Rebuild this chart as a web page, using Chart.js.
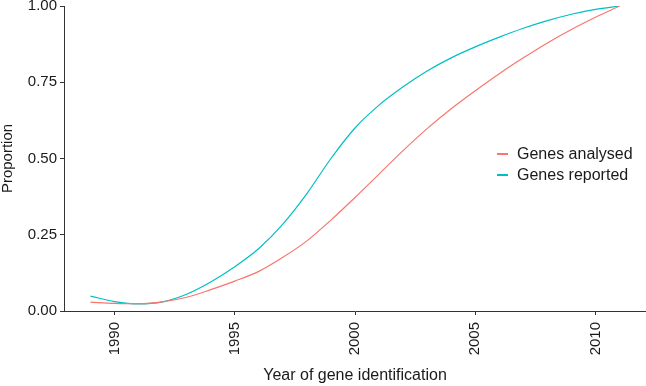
<!DOCTYPE html>
<html>
<head>
<meta charset="utf-8">
<script src="https://cdn.jsdelivr.net/npm/chart.js@4/dist/chart.umd.min.js"></script>
<style>
  body { margin: 0; background: #fff; }
  #wrap { position: relative; width: 646px; height: 386px; }
  #legend { position: absolute; left: 497px; top: 143px; font: 16px "Liberation Sans", Arial, sans-serif; color: #1a1a1a; }
  #legend div { height: 21px; line-height: 21px; white-space: nowrap; }
  #legend span.key { display: inline-block; width: 11px; height: 1.5px; vertical-align: middle; margin-right: 9px; margin-top: -2px; }
</style>
</head>
<body>
<div id="wrap">
  <canvas id="myChart" width="646" height="386"></canvas>
  <div id="legend"></div>
</div>
<script>
var years = [1989, 1990, 1991, 1992, 1993, 1994, 1995, 1996, 1997, 1998, 1999, 2000,
             2001, 2002, 2003, 2004, 2005, 2006, 2007, 2008, 2009, 2010, 2011];
var analysed = [0.029, 0.025, 0.024, 0.030, 0.045, 0.070, 0.098, 0.130, 0.176, 0.230, 0.298, 0.372,
                0.449, 0.526, 0.598, 0.663, 0.722, 0.778, 0.830, 0.879, 0.923, 0.963, 1.000];
var reported = [0.049, 0.031, 0.023, 0.030, 0.055, 0.095, 0.145, 0.205, 0.285, 0.385, 0.500, 0.600,
                0.675, 0.735, 0.787, 0.830, 0.866, 0.898, 0.927, 0.952, 0.973, 0.989, 1.000];
var xTicks = [1990, 1995, 2000, 2005, 2010];
var yTicks = [0, 0.25, 0.5, 0.75, 1];

var seriesNames = ['Genes analysed', 'Genes reported'];
var seriesColors = ['#F8766D', '#00BFC4'];

function points(vals) {
    return years.map(function (y, i) { return { x: y, y: vals[i] }; });
}

var axisColor = '#333333';
var tickFont = { family: 'Liberation Sans, Arial, sans-serif', size: 15 };

var ctx = document.getElementById('myChart').getContext('2d');
var myChart = new Chart(ctx, {
    type: 'line',
    data: {
        datasets: [
            { label: seriesNames[0], data: points(analysed), borderColor: seriesColors[0] },
            { label: seriesNames[1], data: points(reported), borderColor: seriesColors[1] }
        ]
    },
    options: {
        responsive: false,
        animation: false,
        layout: { padding: { top: 6, right: 0, left: 0, bottom: 0 } },
        elements: {
            point: { radius: 0 },
            line: { borderWidth: 1.2, cubicInterpolationMode: 'monotone', fill: false }
        },
        plugins: {
            legend: { display: false },
            tooltip: { enabled: false }
        },
        scales: {
            x: {
                type: 'linear',
                min: 1987.9,
                max: 2012.1,
                afterBuildTicks: function (scale) {
                    scale.ticks = xTicks.map(function (v) { return { value: v }; });
                },
                afterFit: function (scale) {
                    scale.height = 75;
                    scale.paddingLeft = 0;
                    scale.paddingRight = 0;
                },
                grid: { drawOnChartArea: false, tickLength: 4, color: axisColor },
                border: { color: axisColor, width: 1 },
                ticks: {
                    minRotation: 90, maxRotation: 90, padding: 7,
                    color: '#1a1a1a', font: tickFont,
                    callback: function (v) { return String(v); }
                },
                title: {
                    display: true, text: 'Year of gene identification', color: '#1a1a1a',
                    font: { family: 'Liberation Sans, Arial, sans-serif', size: 16, lineHeight: 1.2 },
                    padding: { top: 0, bottom: 1 }
                }
            },
            y: {
                min: 0,
                max: 1,
                afterBuildTicks: function (scale) {
                    scale.ticks = yTicks.map(function (v) { return { value: v }; });
                },
                afterFit: function (scale) {
                    scale.width = 64;
                    scale.paddingTop = 0;
                    scale.paddingBottom = 0;
                },
                grid: { drawOnChartArea: false, tickLength: 4, color: axisColor },
                border: { color: axisColor, width: 1 },
                ticks: {
                    padding: 3, color: '#1a1a1a', font: tickFont,
                    callback: function (v) { return Number(v).toFixed(2); }
                },
                title: {
                    display: true, text: 'Proportion', color: '#1a1a1a',
                    font: { family: 'Liberation Sans, Arial, sans-serif', size: 15, lineHeight: 1 },
                    padding: { top: 0, bottom: 0 }
                }
            }
        }
    }
});

var legend = document.getElementById('legend');
seriesNames.forEach(function (name, i) {
    var row = document.createElement('div');
    row.innerHTML = '<span class="key" style="background:' + seriesColors[i] + '"></span>' + name;
    legend.appendChild(row);
});
</script>
</body>
</html>
